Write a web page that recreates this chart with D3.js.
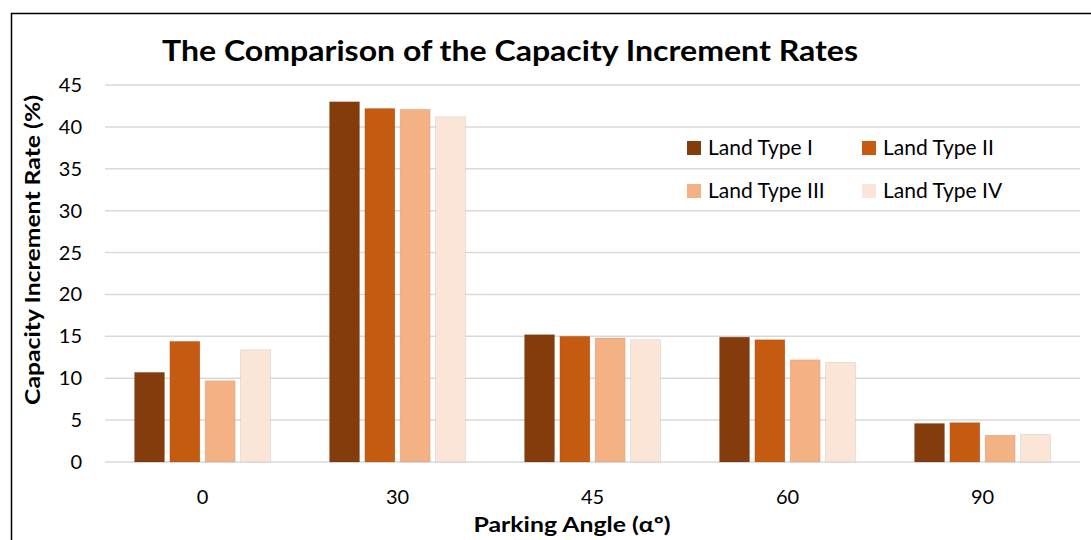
<!DOCTYPE html>
<html>
<head>
<meta charset="utf-8">
<script src="https://cdn.jsdelivr.net/npm/d3@7"></script>
<style>
  body { margin: 0; background: #fff; }
  text { font-family: Lato, "Open Sans", sans-serif; }
</style>
</head>
<body>
<script>
const width = 1091, height = 540;

const angles = ["0", "30", "45", "60", "90"];
const seriesNames = ["Land Type I", "Land Type II", "Land Type III", "Land Type IV"];
const typeI = [10.7, 43.0, 15.2, 14.9, 4.6];
const typeII = [14.4, 42.2, 15.0, 14.6, 4.7];
const typeIII = [9.7, 42.1, 14.8, 12.2, 3.2];
const typeIV = [13.4, 41.2, 14.6, 11.9, 3.3];
const yTicks = [0, 5, 10, 15, 20, 25, 30, 35, 40, 45];

const seriesValues = [typeI, typeII, typeIII, typeIV];
const colors = ["#843c0c", "#c55a11", "#f4b183", "#fbe5d6"];

const svg = d3.select("body").append("svg")
    .attr("width", width)
    .attr("height", height);

// outer frame
svg.append("rect")
    .attr("x", 11.5).attr("y", 13.5)
    .attr("width", 1100).attr("height", 560)
    .attr("fill", "none")
    .attr("stroke", "#000")
    .attr("stroke-width", 1.5);

const plot = { left: 105, right: 1080, top: 85, bottom: 462 };

const x = d3.scaleBand()
    .domain(angles)
    .range([plot.left, plot.right])
    .padding(0);

const xInner = d3.scaleBand()
    .domain(seriesNames)
    .range([-68, 68])
    .paddingInner(0.15);

const y = d3.scaleLinear()
    .domain([0, 45])
    .range([plot.bottom, plot.top]);

// gridlines
svg.append("g")
    .selectAll("line")
    .data(yTicks)
    .enter()
    .append("line")
    .attr("x1", plot.left)
    .attr("x2", plot.right)
    .attr("y1", d => y(d))
    .attr("y2", d => y(d))
    .attr("stroke", "#d9d9d9")
    .attr("stroke-width", 1.5);

// y tick labels
svg.append("g")
    .selectAll("text")
    .data(yTicks)
    .enter()
    .append("text")
    .attr("x", 82)
    .attr("y", d => y(d))
    .attr("dy", "0.35em")
    .attr("text-anchor", "end")
    .attr("font-size", "20px")
    .attr("fill", "#000")
    .text(d => d);

// x tick labels
svg.append("g")
    .selectAll("text")
    .data(angles)
    .enter()
    .append("text")
    .attr("x", d => x(d) + x.bandwidth() / 2)
    .attr("y", 504)
    .attr("text-anchor", "middle")
    .attr("font-size", "20px")
    .attr("fill", "#000")
    .text(d => d);

// bars
const groups = svg.append("g")
    .selectAll("g")
    .data(angles)
    .enter()
    .append("g")
    .attr("transform", d => `translate(${x(d) + x.bandwidth() / 2},0)`);

groups.selectAll("rect")
    .data((d, i) => seriesNames.map((s, j) => ({ s, j, v: seriesValues[j][i] })))
    .enter()
    .append("rect")
    .attr("x", d => xInner(d.s))
    .attr("width", xInner.bandwidth())
    .attr("y", d => y(d.v))
    .attr("height", d => y(0) - y(d.v))
    .attr("fill", d => colors[d.j])
    .attr("stroke", "rgba(0,0,0,0.08)")
    .attr("stroke-width", 1);

// title
svg.append("text")
    .attr("x", 510)
    .attr("y", 61)
    .attr("text-anchor", "middle")
    .attr("font-size", "28px")
    .attr("font-weight", "bold")
    .attr("textLength", 696)
    .attr("lengthAdjust", "spacingAndGlyphs")
    .text("The Comparison of the Capacity Increment Rates");

// axis titles
svg.append("text")
    .attr("transform", "translate(40,250) rotate(-90)")
    .attr("text-anchor", "middle")
    .attr("font-size", "20px")
    .attr("font-weight", "bold")
    .attr("textLength", 310)
    .attr("lengthAdjust", "spacingAndGlyphs")
    .text("Capacity Increment Rate (%)");

svg.append("text")
    .attr("x", 572)
    .attr("y", 532)
    .attr("text-anchor", "middle")
    .attr("font-size", "20px")
    .attr("font-weight", "bold")
    .attr("textLength", 197)
    .attr("lengthAdjust", "spacingAndGlyphs")
    .text("Parking Angle (αº)");

// legend
const legendPos = [
    { x: 687, y: 148 }, { x: 862, y: 148 },
    { x: 687, y: 191 }, { x: 862, y: 191 }
];
const legend = svg.append("g")
    .selectAll("g")
    .data(seriesNames)
    .enter()
    .append("g")
    .attr("transform", (d, i) => `translate(${legendPos[i].x},${legendPos[i].y})`);

legend.append("rect")
    .attr("x", 0).attr("y", -7)
    .attr("width", 14).attr("height", 14)
    .attr("fill", (d, i) => colors[i]);

legend.append("text")
    .attr("x", 21)
    .attr("y", 0)
    .attr("dy", "0.35em")
    .attr("font-size", "21px")
    .attr("fill", "#000")
    .text(d => d);
</script>
</body>
</html>
